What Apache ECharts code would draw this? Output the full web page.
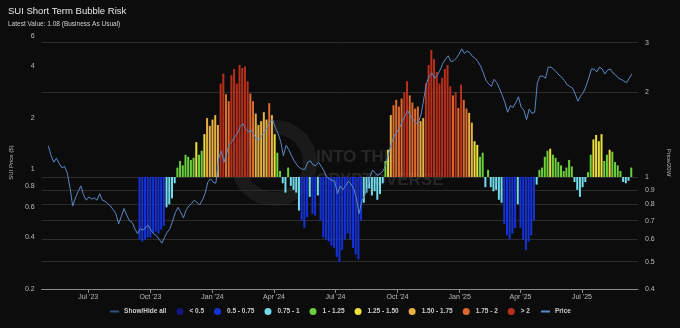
<!DOCTYPE html>
<html>
<head>
<meta charset="utf-8">
<script src="https://cdn.jsdelivr.net/npm/echarts@6/dist/echarts.min.js"></script>
<style>html,body{margin:0;padding:0;background:#0c0c0c}#c{width:680px;height:328px}</style>
</head>
<body>
<div id="c"></div>
<script>
// ---------- DATA ----------
const titleText = 'SUI Short Term Bubble Risk';
const subtitleText = 'Latest Value: 1.08 (Business As Usual)';

// Bubble risk (Price / 20W ratio), one value every 4 days from 2023-09-15
const riskStart = '2023-09-15';
const riskStepDays = 4;
const riskValues = [
  0.60,0.59,0.60,0.61,0.61,0.63,0.64,0.63,0.65,0.67,
  0.78,0.80,0.84,0.95,1.08,1.14,1.10,1.20,1.18,1.15,
  1.17,1.33,1.20,1.24,1.42,1.62,1.52,1.60,1.66,1.53,
  2.15,2.33,1.97,1.86,2.30,2.42,2.15,2.50,2.44,2.47,
  2.19,1.98,1.86,1.68,1.53,1.58,1.70,1.60,1.83,1.66,
  1.42,1.22,1.05,0.95,0.88,1.08,0.93,0.90,0.88,0.76,
  0.70,0.66,0.72,0.85,0.74,0.73,0.86,0.70,0.61,0.60,
  0.59,0.57,0.56,0.52,0.50,0.55,0.60,0.63,0.60,0.56,
  0.53,0.51,0.70,0.81,0.88,0.91,0.86,0.89,0.83,0.87,
  0.95,1.14,1.25,1.66,1.80,1.88,1.78,1.90,2.00,2.19,
  1.95,1.84,1.75,1.78,1.58,1.62,2.15,2.50,2.83,2.62,
  2.36,2.15,2.25,2.42,2.50,2.10,1.95,2.00,1.76,2.13,
  1.88,1.75,1.69,1.56,1.34,1.30,1.18,1.22,0.92,1.06,
  0.92,0.89,0.90,0.83,0.81,0.68,0.62,0.60,0.63,0.66,
  0.80,0.66,0.60,0.55,0.59,0.62,0.70,0.94,1.06,1.08,
  1.18,1.24,1.26,1.20,1.17,1.13,1.10,1.05,1.08,1.15,
  1.09,0.96,0.90,0.85,0.92,0.96,1.04,1.20,1.36,1.41,
  1.34,1.42,1.14,1.20,1.25,1.23,1.13,1.10,1.05,0.96,
  0.95,0.97,1.08
];

// SUI price ($), one value every 4 days from 2023-05-03
const priceStart = '2023-05-03';
const priceStepDays = 4;
const priceValues = [
  1.37,1.20,1.10,1.16,1.08,1.02,1.04,0.95,0.78,0.61,
  0.68,0.74,0.80,0.71,0.66,0.69,0.67,0.68,0.66,0.72,
  0.66,0.65,0.63,0.61,0.58,0.55,0.48,0.53,0.59,0.54,
  0.50,0.49,0.45,0.42,0.45,0.44,0.46,0.47,0.44,0.42,
  0.41,0.39,0.37,0.40,0.43,0.45,0.50,0.56,0.60,0.56,
  0.52,0.58,0.61,0.63,0.66,0.64,0.62,0.66,0.72,0.84,
  0.88,0.84,0.83,1.15,1.28,1.10,1.25,1.40,1.45,1.55,
  1.62,1.78,1.85,1.72,1.65,1.70,1.60,1.50,1.48,1.58,
  1.65,1.75,1.90,1.95,1.75,1.62,1.45,1.20,1.38,1.30,
  1.20,1.12,1.06,1.02,1.00,1.00,1.10,1.12,1.06,1.05,
  1.10,1.04,0.98,0.90,0.88,0.86,0.85,0.72,0.80,0.76,
  0.80,0.85,0.82,0.77,0.68,0.55,0.65,0.70,0.77,0.90,
  0.99,0.95,0.92,0.95,0.98,1.08,1.25,1.42,1.55,1.65,
  1.75,1.90,2.05,2.20,2.05,1.95,1.85,1.88,2.10,2.60,
  3.20,3.50,3.65,3.40,3.55,3.80,4.15,4.40,4.60,4.25,
  4.30,4.45,4.70,5.05,4.75,4.90,4.80,4.55,4.45,4.25,
  4.00,3.65,3.30,3.15,3.05,3.35,3.20,2.95,2.70,2.45,
  2.15,2.35,2.30,2.45,2.65,2.30,2.22,1.95,2.25,2.12,
  2.15,3.20,3.50,3.50,3.40,3.95,3.95,3.85,3.70,3.55,
  3.45,3.30,3.12,3.05,2.98,2.75,2.50,2.68,2.80,3.05,
  3.40,3.85,3.85,3.70,3.95,3.85,3.60,3.80,3.85,3.65,
  3.55,3.40,3.35,3.28,3.20,3.40,3.60
];

// Risk bands (legend categories)
const bandNames = ['< 0.5','0.5 - 0.75','0.75 - 1','1 - 1.25','1.25 - 1.50','1.50 - 1.75','1.75 - 2','> 2'];
const bandLow   = [0, 0.5, 0.75, 1, 1.25, 1.5, 1.75, 2];
const bandHigh  = [0.5, 0.75, 1, 1.25, 1.5, 1.75, 2, 100];

// Axis ticks
const xTickDates = ['2023-07-01','2023-10-01','2024-01-01','2024-04-01','2024-07-01','2024-10-01','2025-01-01','2025-04-01','2025-07-01'];
const leftTicks  = [0.2, 0.4, 0.6, 0.8, 1, 2, 4, 6];
const rightTicks = [0.4, 0.5, 0.6, 0.7, 0.8, 0.9, 1, 2, 3];
const xMinDate = '2023-04-23';
const xMaxDate = '2025-09-22';

// ---------- STYLE ----------
const bandColors = ['#131780','#1432d8','#72dcec','#6ccf3c','#ece13c','#e6b045','#de6a2e','#b8301c'];
const FONT = '"Liberation Sans", Arial, sans-serif';
const DAY = 86400000;
function ts(s){ const p = s.split('-').map(Number); return Date.UTC(p[0], p[1]-1, p[2]); }
const MONTHS = ['Jan','Feb','Mar','Apr','May','Jun','Jul','Aug','Sep','Oct','Nov','Dec'];

const riskT0 = ts(riskStart);
const priceT0 = ts(priceStart);
const priceData = priceValues.map((v, j) => [priceT0 + j * priceStepDays * DAY, v]);
const xTicks = xTickDates.map(ts);

const barSeries = bandNames.map((name, b) => ({
  name: name,
  type: 'bar',
  yAxisIndex: 1,
  barWidth: 2,
  barGap: '-100%',
  z: 2,
  itemStyle: { color: bandColors[b] },
  emphasis: { disabled: true },
  data: riskValues
    .map((v, i) => (v >= bandLow[b] && v < bandHigh[b]) ? [riskT0 + i * riskStepDays * DAY, v] : null)
    .filter(Boolean)
}));
// gridlines drawn on the ratio axis
barSeries[3].markLine = {
  silent: true, symbol: ['none','none'], z: 1,
  label: { show: false },
  lineStyle: { color: '#2d2d2d', width: 1, type: 'solid' },
  emphasis: { disabled: true },
  data: rightTicks.slice(1).map(v => ({ yAxis: v }))
};

const chart = echarts.init(document.getElementById('c'), null, { renderer: 'canvas' });
chart.setOption({
  backgroundColor: '#0c0c0c',
  animation: false,
  textStyle: { fontFamily: FONT },
  title: {
    text: titleText, subtext: subtitleText, left: 8, top: 6, padding: 0, itemGap: 5,
    textStyle: { color: '#e6e6e6', fontSize: 9.5, fontWeight: 'normal', fontFamily: FONT },
    subtextStyle: { color: '#d0d0d0', fontSize: 6.5, fontFamily: FONT }
  },
  graphic: [
    { type: 'circle', silent: true, z: 0, shape: { cx: 274, cy: 163, r: 36 },
      style: { fill: 'none', stroke: 'rgba(255,255,255,0.06)', lineWidth: 14 } },
    { type: 'text', silent: true, z: 0, left: 316, top: 149,
      style: { text: 'INTO THE', fill: 'rgba(255,255,255,0.11)', font: 'bold 17px "Liberation Sans", Arial, sans-serif' } },
    { type: 'text', silent: true, z: 0, left: 316, top: 172,
      style: { text: 'CRYPTOVERSE', fill: 'rgba(255,255,255,0.11)', font: 'bold 17px "Liberation Sans", Arial, sans-serif' } }
  ],
  legend: {
    left: 'center', bottom: 8, itemWidth: 9, itemHeight: 7, itemGap: 10,
    textStyle: { color: '#cccccc', fontSize: 6.5, fontWeight: 'bold', fontFamily: FONT },
    data: [{ name: 'Show/Hide all', itemStyle: { opacity: 0 } }]
      .concat(bandNames.map(n => ({ name: n, icon: 'circle' })))
      .concat([{ name: 'Price', itemStyle: { opacity: 0 } }])
  },
  grid: { left: 37, right: 42, top: 36, bottom: 39 },
  xAxis: {
    type: 'value', min: ts(xMinDate), max: ts(xMaxDate), scale: true,
    axisLine: { show: true, onZero: false, lineStyle: { color: '#8a8a8a', width: 1 } },
    axisTick: { show: true, customValues: xTicks, length: 4, lineStyle: { color: '#8a8a8a' } },
    axisLabel: {
      customValues: xTicks, color: '#bbbbbb', fontSize: 7, margin: 5, fontFamily: FONT,
      formatter: function (v) { const d = new Date(v); return MONTHS[d.getUTCMonth()] + " '" + String(d.getUTCFullYear()).slice(2); }
    },
    splitLine: { show: false }
  },
  yAxis: [
    {
      type: 'log', logBase: 10, min: 0.2, max: 6, position: 'left',
      name: 'SUI Price ($)', nameLocation: 'middle', nameGap: 24,
      nameTextStyle: { color: '#bbbbbb', fontSize: 6, fontFamily: FONT },
      axisLine: { show: false }, axisTick: { show: false, customValues: leftTicks },
      axisLabel: { customValues: leftTicks, color: '#bbbbbb', fontSize: 7, margin: 7, fontFamily: FONT,
        formatter: v => String(+(+v).toFixed(2)) },
      splitLine: { show: false }
    },
    {
      type: 'log', logBase: 10, min: 0.4, max: 3.17, position: 'right',
      name: 'Price/20W', nameLocation: 'middle', nameGap: 24, nameRotate: -90,
      nameTextStyle: { color: '#bbbbbb', fontSize: 6, fontFamily: FONT },
      axisLine: { show: false }, axisTick: { show: false, customValues: rightTicks },
      axisLabel: { customValues: rightTicks, color: '#bbbbbb', fontSize: 7, margin: 7, fontFamily: FONT,
        formatter: v => String(+(+v).toFixed(2)) },
      splitLine: { show: false }
    }
  ],
  series: [
    { name: 'Show/Hide all', type: 'line', data: [], symbol: 'none', itemStyle: { color: '#34507e' }, lineStyle: { color: '#34507e' } }
  ].concat(barSeries).concat([
    { name: 'Price', type: 'line', yAxisIndex: 0, z: 5, data: priceData, symbol: 'none', showSymbol: false,
      itemStyle: { color: '#5a87c5' }, lineStyle: { color: '#5a87c5', width: 1 }, emphasis: { disabled: true } }
  ])
});
</script>
</body>
</html>
